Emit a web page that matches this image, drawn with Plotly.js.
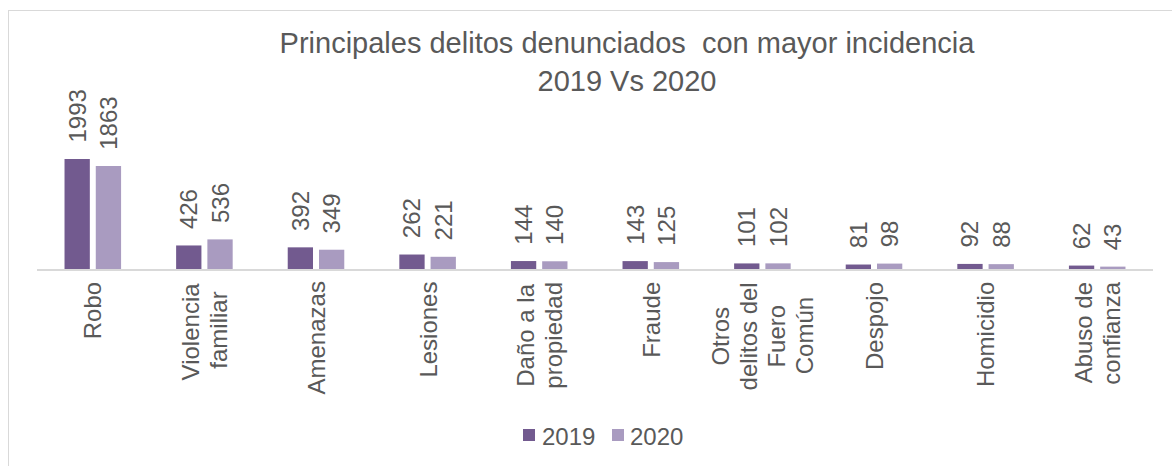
<!DOCTYPE html>
<html>
<head>
<meta charset="utf-8">
<script src="https://cdn.plot.ly/plotly-3.0.1.min.js"></script>
<style>
  html, body { margin: 0; padding: 0; background: #fff; }
  #wrap { position: relative; width: 1172px; height: 466px; overflow: hidden; }
  #chart { width: 1172px; height: 466px; }
  #frame { position: absolute; left: 8px; top: 10px; width: 1200px; height: 500px;
           border: 1px solid #d9d9d9; pointer-events: none; box-sizing: border-box; }
</style>
</head>
<body>
<div id="wrap">
  <div id="chart"></div>
  <div id="frame"></div>
</div>
<script>
const categories = ["Robo", "Violencia<br>familiar", "Amenazas", "Lesiones", "Daño a la<br>propiedad",
  "Fraude", "Otros<br>delitos del<br>Fuero<br>Común", "Despojo", "Homicidio", "Abuso de<br>confianza"];
const seriesNames = ["2019", "2020"];
const values2019 = [1993, 426, 392, 262, 144, 143, 101, 81, 92, 62];
const values2020 = [1863, 536, 349, 221, 140, 125, 102, 98, 88, 43];
const titleText = "Principales delitos denunciados  con mayor incidencia<br>2019 Vs 2020";

const colors = ["#725A8F", "#A99BC0"];
const FONT = "Liberation Sans, Arial, sans-serif";
const TXT = "#595959";
const LABEL_SIZE = 24;
const LINE_GAP = 28;

function barTrace(name, vals, color) {
  return {
    type: "bar", name: name, x: categories, y: vals,
    marker: { color: color },
    texttemplate: "\u00a0\u00a0%{y}",
    textposition: "outside",
    textangle: -90,
    constraintext: "none",
    cliponaxis: false,
    textfont: { family: FONT, size: 24, color: TXT },
    hoverinfo: "x+y"
  };
}

const data = [barTrace(seriesNames[0], values2019, colors[0]), barTrace(seriesNames[1], values2020, colors[1])];

// plot area in px: x 37..1153, y 48..269
const L = 37, R = 1153, T = 48, B = 269;
const px2x = p => (p - L) / (R - L);
const px2y = p => (B - p) / (B - T);

// category labels: each line centred on the longest line (rotated -90)
const ctx = document.createElement("canvas").getContext("2d");
ctx.font = LABEL_SIZE + "px 'Liberation Sans'";
const annotations = [];
categories.forEach(c => {
  const lines = c.split("<br>");
  const widths = lines.map(s => ctx.measureText(s).width);
  const maxW = Math.max(...widths);
  lines.forEach((s, j) => {
    annotations.push({
      x: c, y: 0, xref: "x", yref: "y",
      text: s, showarrow: false, textangle: -90,
      xanchor: "center", yanchor: "top",
      xshift: (j - (lines.length - 1) / 2) * LINE_GAP,
      yshift: -11 - (maxW - widths[j]) / 2,
      font: { family: FONT, size: LABEL_SIZE, color: TXT }
    });
  });
});

// legend (custom)
const legendTextX = [540, 628];
const legendBoxX = [523, 612];
const shapes = [];
seriesNames.forEach((n, i) => {
  annotations.push({
    x: px2x(legendTextX[i]), y: px2y(436), xref: "paper", yref: "paper",
    text: n, showarrow: false, xanchor: "left", yanchor: "middle",
    font: { family: FONT, size: 24, color: TXT }
  });
  shapes.push({
    type: "rect", xref: "paper", yref: "paper",
    x0: px2x(legendBoxX[i]), x1: px2x(legendBoxX[i] + 12),
    y0: px2y(429), y1: px2y(441),
    fillcolor: colors[i], line: { width: 0 }
  });
});

const layout = {
  width: 1172, height: 466,
  margin: { l: L, r: 1172 - R, t: T, b: 466 - B },
  paper_bgcolor: "#ffffff", plot_bgcolor: "#ffffff",
  showlegend: false,
  barmode: "group", bargap: 0.44, bargroupgap: 0.19,
  title: {
    text: titleText, xref: "container", yref: "container",
    x: 627 / 1172, xanchor: "center", y: 1 - 53 / 466, yanchor: "top",
    font: { family: FONT, size: 29, color: TXT }
  },
  xaxis: {
    type: "category", showticklabels: false, ticks: "",
    showline: true, linecolor: "#d9d9d9", linewidth: 1.5,
    showgrid: false, zeroline: false, fixedrange: true
  },
  yaxis: { range: [0, 4000], visible: false, showgrid: false, zeroline: false, fixedrange: true },
  annotations: annotations,
  shapes: shapes
};

Plotly.newPlot("chart", data, layout, { displayModeBar: false, staticPlot: true });
</script>
</body>
</html>
